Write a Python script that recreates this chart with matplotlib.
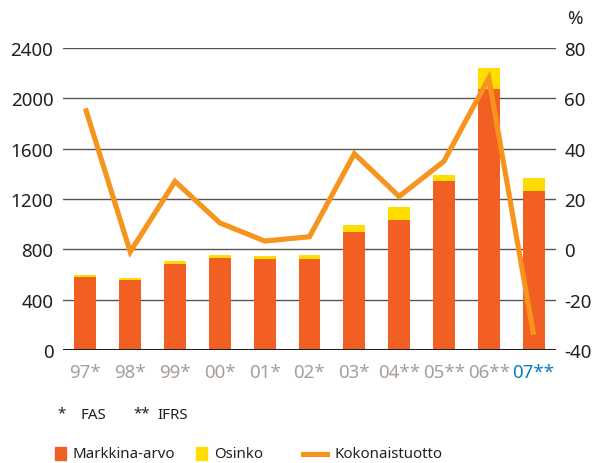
import matplotlib.pyplot as plt
from matplotlib.patches import Rectangle
from matplotlib.lines import Line2D

plt.rcParams["font.family"] = ["Noto Sans", "DejaVu Sans"]
plt.rcParams["axes.unicode_minus"] = False

# data
years = ["97*", "98*", "99*", "00*", "01*", "02*", "03*", "04**", "05**", "06**", "07**"]
market_value = [580, 556, 683, 731, 723, 723, 938, 1033, 1343, 2074, 1264]
dividend = [16, 16, 24, 24, 24, 32, 55, 103, 48, 167, 103]
total_return = [56, -1, 27, 10.5, 3.3, 5, 38, 21, 35, 68, -34]

left_ticks = [0, 400, 800, 1200, 1600, 2000, 2400]
right_ticks = [-40, -20, 0, 20, 40, 60, 80]

RED = "#F15F22"
YELLOW = "#FFDD00"
LINE = "#F7941D"
TICK_GREY = "#A89F98"
BLUE = "#0A7CC1"
TEXT = "#231F20"

W, H = 596, 464
fig = plt.figure(figsize=(W / 100, H / 100), dpi=100)
ax = fig.add_axes([63 / W, 1 - 351 / H, (556 - 63) / W, (351 - 49) / H])

x = list(range(len(years)))
ax.bar(x, market_value, width=0.49, color=RED, zorder=2)
ax.bar(x, dividend, width=0.49, bottom=market_value, color=YELLOW, zorder=2)

ax.set_xlim(-0.5, len(years) - 0.5)
ax.set_ylim(0, 2400)
ax.set_yticks(left_ticks)
for t in left_ticks[1:]:
    ax.axhline(t, color="#555555", lw=1.0, zorder=1)
ax.axhline(0, color=TEXT, lw=2.2, zorder=4)

for s in ax.spines.values():
    s.set_visible(False)
ax.tick_params(axis="both", length=0, labelsize=13.5, colors=TEXT)
ax.tick_params(axis="y", pad=7)
ax.tick_params(axis="x", pad=9)
ax.set_xticks(x)
ax.set_xticklabels(years)
for lab in ax.get_xticklabels():
    lab.set_color(TICK_GREY)
ax.get_xticklabels()[-1].set_color(BLUE)

ax2 = ax.twinx()
ax2.plot(x, total_return, color=LINE, lw=3.7, solid_joinstyle="miter",
         solid_capstyle="butt", zorder=3)
ax2.set_ylim(-40, 80)
ax2.set_yticks(right_ticks)
for s in ax2.spines.values():
    s.set_visible(False)
ax2.tick_params(axis="y", length=0, labelsize=13.5, colors=TEXT, pad=6)
ax2.text(1.022, 1.099, "%", transform=ax2.transAxes, fontsize=13.5,
         color=TEXT, ha="left", va="center")

# footnote
fs = 10.8
fig.text(57 / W, 1 - 414 / H, "*", fontsize=fs, color=TEXT, va="center")
fig.text(80 / W, 1 - 416 / H, "FAS", fontsize=fs, color=TEXT, va="center")
fig.text(133 / W, 1 - 414 / H, "**", fontsize=fs, color=TEXT, va="center")
fig.text(157 / W, 1 - 416 / H, "IFRS", fontsize=fs, color=TEXT, va="center")

# legend
ly = 1 - 455 / H
fig.add_artist(Rectangle((55 / W, 1 - 461 / H), 11 / W, 13 / H,
                         transform=fig.transFigure, color=RED))
fig.text(73 / W, ly, "Markkina-arvo", fontsize=fs, color=TEXT, va="center")
fig.add_artist(Rectangle((196 / W, 1 - 461 / H), 11 / W, 13 / H,
                         transform=fig.transFigure, color=YELLOW))
fig.text(214 / W, ly, "Osinko", fontsize=fs, color=TEXT, va="center")
fig.add_artist(Line2D([303 / W, 327 / W], [ly, ly], transform=fig.transFigure,
                      color=LINE, lw=3.7))
fig.text(334 / W, ly, "Kokonaistuotto", fontsize=fs, color=TEXT, va="center")

fig.savefig("out.png", dpi=100)
